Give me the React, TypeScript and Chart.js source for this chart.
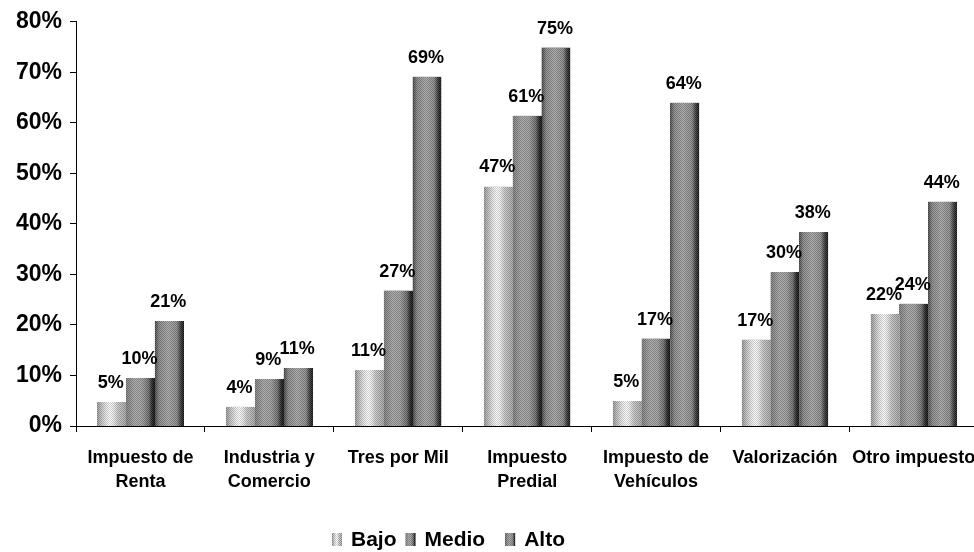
import React, { useEffect, useRef } from 'react';
import { Chart, registerables } from 'chart.js';

Chart.register(...registerables);

const categories: (string | string[])[] = [
  ['Impuesto de', 'Renta'],
  ['Industria y', 'Comercio'],
  'Tres por Mil',
  ['Impuesto', 'Predial'],
  ['Impuesto de', 'Vehículos'],
  'Valorización',
  'Otro impuesto',
];
const seriesNames = ['Bajo', 'Medio', 'Alto'];
const bajo = [4.7, 3.8, 11, 47.4, 4.9, 17.1, 22.1];
const medio = [9.5, 9.3, 26.8, 61.4, 17.3, 30.4, 24.2];
const alto = [20.7, 11.4, 69.1, 74.9, 64, 38.4, 44.4];
const yMin = 0;
const yMax = 80;
const yStep = 10;

const FONT = 'Arial, "Liberation Sans", sans-serif';

const gradientStops: [number, string][][] = [
  [
    [0, '#9a9a9a'], [0.15, '#c4c4c4'], [0.3, '#e8e8e8'], [0.45, '#ffffff'],
    [0.56, '#f2f2f2'], [0.72, '#c8c8c8'], [1, '#a6a6a6'],
  ],
  [
    [0, '#7e7e7e'], [0.3, '#a6a6a6'], [0.55, '#a0a0a0'], [0.78, '#6e6e6e'],
    [0.9, '#262626'], [1, '#111111'],
  ],
  [
    [0, '#4a4a4a'], [0.15, '#8a8a8a'], [0.45, '#a6a6a6'], [0.75, '#8c8c8c'],
    [0.9, '#363636'], [1, '#151515'],
  ],
];

function makePattern(ctx: CanvasRenderingContext2D) {
  const c = document.createElement('canvas');
  c.width = 2;
  c.height = 2;
  const p = c.getContext('2d')!;
  p.fillStyle = 'rgba(0,0,0,0.2)';
  p.fillRect(0, 0, 1, 1);
  p.fillRect(1, 1, 1, 1);
  p.fillStyle = 'rgba(255,255,255,0.12)';
  p.fillRect(1, 0, 1, 1);
  p.fillRect(0, 1, 1, 1);
  return ctx.createPattern(c, 'repeat');
}

function paintBar(ctx: CanvasRenderingContext2D, di: number, left: number, top: number, w: number, h: number, pattern: CanvasPattern | null) {
  const g = ctx.createLinearGradient(left, 0, left + w, 0);
  gradientStops[di].forEach(([o, c]) => g.addColorStop(o, c));
  ctx.fillStyle = g;
  ctx.fillRect(left, top, w, h);
  if (pattern) {
    ctx.fillStyle = pattern;
    ctx.fillRect(left, top, w, h);
  }
}

export default function App() {
  const ref = useRef<HTMLCanvasElement>(null);

  useEffect(() => {
    if (!ref.current) return;
    const ctx0 = ref.current.getContext('2d')!;
    const pattern = makePattern(ctx0);

    const barPainter = {
      id: 'barPainter',
      afterDatasetDraw(chart: any, args: any) {
        const ctx = chart.ctx;
        const di = args.index;
        ctx.save();
        args.meta.data.forEach((el: any) => {
          const { x, y, base, width } = el.getProps(['x', 'y', 'base', 'width'], true);
          const left = Math.round(x - width / 2);
          const right = Math.round(x + width / 2);
          paintBar(ctx, di, left, Math.round(y), right - left, Math.round(base) - Math.round(y), pattern);
        });
        ctx.restore();
      },
    };

    const valueLabels = {
      id: 'valueLabels',
      afterDatasetsDraw(chart: any) {
        const ctx = chart.ctx;
        ctx.save();
        ctx.font = `bold 18px ${FONT}`;
        ctx.fillStyle = '#000';
        ctx.textAlign = 'center';
        ctx.textBaseline = 'middle';
        chart.data.datasets.forEach((ds: any, di: number) => {
          const meta = chart.getDatasetMeta(di);
          meta.data.forEach((el: any, i: number) => {
            const { x, y } = el.getProps(['x', 'y'], true);
            ctx.fillText(Math.round(ds.data[i]) + '%', x - 1, y - 19);
          });
        });
        ctx.restore();
      },
    };

    const customLegend = {
      id: 'customLegend',
      afterDraw(chart: any) {
        const ctx = chart.ctx;
        ctx.save();
        ctx.font = `bold 21px ${FONT}`;
        ctx.textBaseline = 'middle';
        ctx.textAlign = 'left';
        const cy = 540;
        const gapAfter = [9, 20, 0];
        let x = 332;
        seriesNames.forEach((name, di) => {
          paintBar(ctx, di, x, cy - 7, 10, 13, pattern);
          x += 10 + 9;
          ctx.fillStyle = '#000';
          ctx.fillText(name, x, cy);
          x += ctx.measureText(name).width + gapAfter[di];
        });
        ctx.restore();
      },
    };

    const colors = ['#d0d0d0', '#9a9a9a', '#808080'];
    const chart = new Chart(ref.current, {
      type: 'bar',
      data: {
        labels: categories,
        datasets: [bajo, medio, alto].map((d, i) => ({
          label: seriesNames[i],
          data: d,
          backgroundColor: colors[i],
          borderWidth: 0,
          barPercentage: 1,
          categoryPercentage: 0.67,
        })),
      },
      options: {
        responsive: false,
        animation: false,
        devicePixelRatio: 1,
        layout: { padding: { top: 20, right: 9, bottom: 56, left: 0 } },
        plugins: {
          legend: { display: false },
          tooltip: { enabled: false },
          title: { display: false },
        },
        scales: {
          x: {
            ticks: {
              font: { family: FONT, size: 18, weight: 'bold', lineHeight: 1.33 },
              color: '#000',
              padding: 14,
              maxRotation: 0,
              autoSkip: false,
            },
            grid: { drawOnChartArea: false, drawTicks: true, tickLength: 6, color: '#000', offset: true },
            border: { color: '#000', width: 1 },
            afterFit: (s: any) => { s.height = 70; },
          },
          y: {
            min: yMin,
            max: yMax,
            ticks: {
              stepSize: yStep,
              callback: (v: any) => v + '%',
              font: { family: FONT, size: 23, weight: 'bold' },
              color: '#000',
              padding: 8,
            },
            grid: { drawOnChartArea: false, drawTicks: true, tickLength: 6, color: '#000' },
            border: { color: '#000', width: 1 },
            afterFit: (s: any) => { s.width = 76; },
          },
        },
      },
      plugins: [barPainter, valueLabels, customLegend],
    } as any);

    return () => chart.destroy();
  }, []);

  return (
    <div style={{ position: 'fixed', left: 0, top: 0, width: 974, height: 552, overflow: 'hidden', background: '#fff' }}>
      <canvas ref={ref} width={990} height={552} style={{ display: 'block', width: 990, height: 552 }} />
    </div>
  );
}
